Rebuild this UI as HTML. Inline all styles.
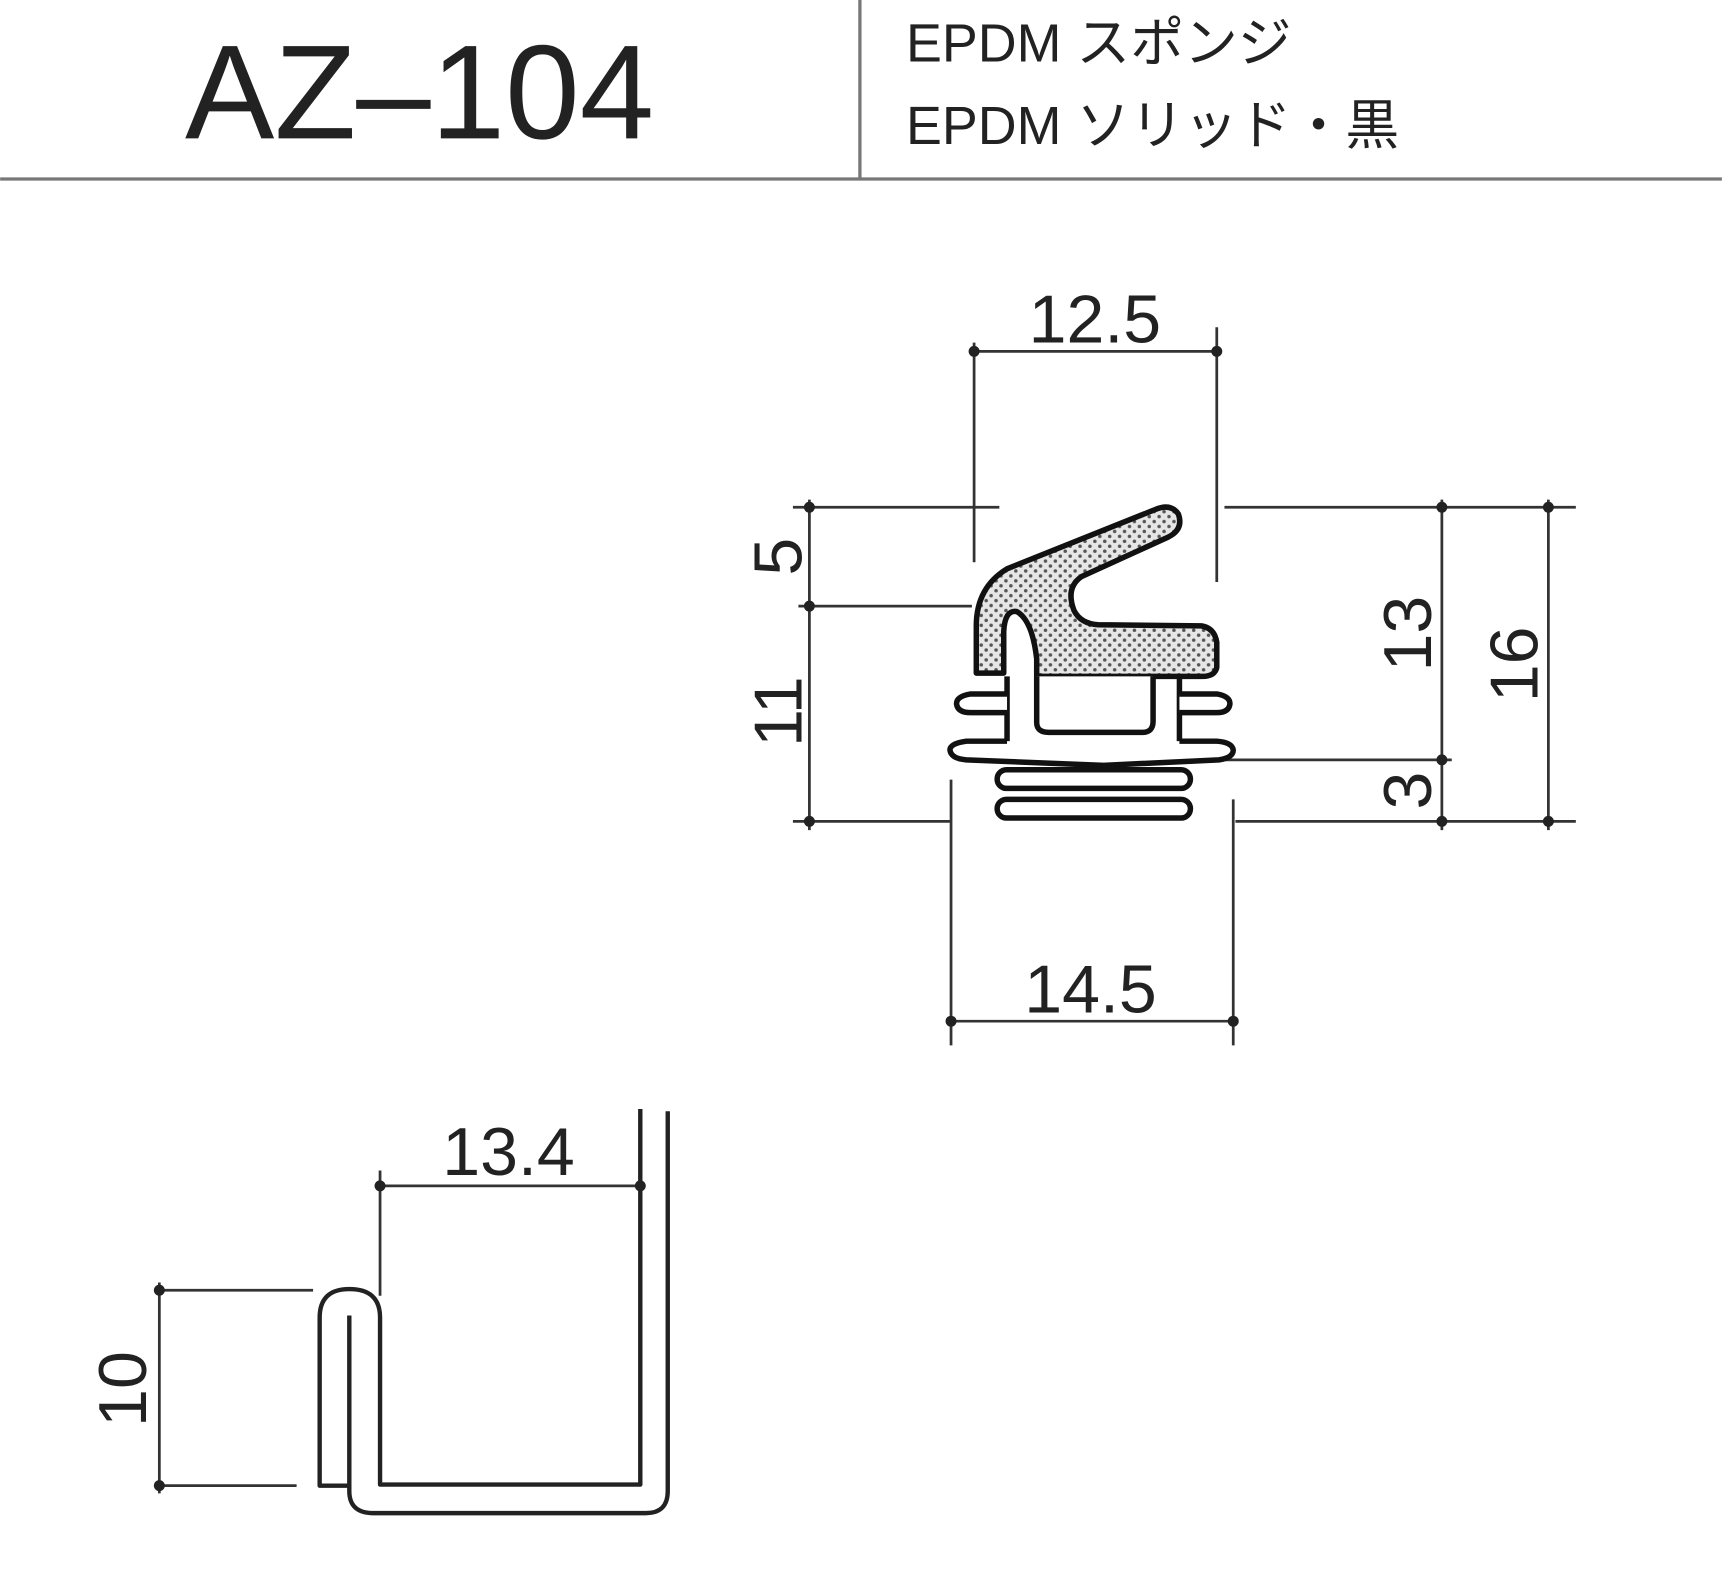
<!DOCTYPE html>
<html><head><meta charset="utf-8"><style>
html,body{margin:0;padding:0;background:#fff;}
svg{display:block;}
text{font-family:"Liberation Sans","Noto Sans CJK JP",sans-serif;fill:#222;}
</style></head><body>
<svg width="1722" height="1579" viewBox="0 0 1568 1438" xmlns="http://www.w3.org/2000/svg">
<defs>
<pattern id="dots" width="9" height="9" patternUnits="userSpaceOnUse">
<rect width="9" height="9" fill="#e6e6e6"/>
<circle cx="2.5" cy="2.5" r="1.6" fill="#555"/>
<circle cx="7" cy="7" r="1.6" fill="#555"/>
</pattern>
</defs>
<rect width="1568" height="1438" fill="#fff"/>
<line x1="0" y1="163" x2="1568" y2="163" stroke="#777" stroke-width="3"/>
<line x1="783" y1="0" x2="783" y2="163" stroke="#777" stroke-width="3"/>
<text x="382" y="126" font-size="122" text-anchor="middle">AZ–104</text>
<text x="825" y="56" font-size="49">EPDM スポンジ</text>
<text x="825" y="131" font-size="49">EPDM ソリッド・黒</text>

<g stroke="#333" stroke-width="2.5" fill="none">
<line x1="887" y1="320" x2="1108" y2="320"/>
<line x1="887" y1="312" x2="887" y2="512"/>
<line x1="1108" y1="298" x2="1108" y2="530"/>
<line x1="722" y1="462" x2="910" y2="462"/>
<line x1="1115" y1="462" x2="1435" y2="462"/>
<line x1="727" y1="552" x2="885" y2="552"/>
<line x1="722" y1="748" x2="865" y2="748"/>
<line x1="1125" y1="748" x2="1435" y2="748"/>
<line x1="1100" y1="692" x2="1322" y2="692"/>
<line x1="737" y1="455" x2="737" y2="756"/>
<line x1="1313" y1="455" x2="1313" y2="756"/>
<line x1="1410" y1="455" x2="1410" y2="756"/>
<line x1="866" y1="710" x2="866" y2="952"/>
<line x1="1123" y1="728" x2="1123" y2="952"/>
<line x1="866" y1="930" x2="1123" y2="930"/>
</g>
<g fill="#222">
<circle cx="887" cy="320" r="5"/><circle cx="1108" cy="320" r="5"/>
<circle cx="737" cy="462" r="5"/><circle cx="737" cy="552" r="5"/><circle cx="737" cy="748" r="5"/>
<circle cx="1313" cy="462" r="5"/><circle cx="1313" cy="692" r="5"/><circle cx="1313" cy="748" r="5"/>
<circle cx="1410" cy="462" r="5"/><circle cx="1410" cy="748" r="5"/>
<circle cx="866" cy="930" r="5"/><circle cx="1123" cy="930" r="5"/>
</g>
<text x="997" y="312" font-size="62" text-anchor="middle">12.5</text>
<text x="993" y="922" font-size="62" text-anchor="middle">14.5</text>
<text transform="translate(730,507) rotate(-90)" font-size="62" text-anchor="middle">5</text>
<text transform="translate(730,648) rotate(-90)" font-size="62" text-anchor="middle">11</text>
<text transform="translate(1303,577) rotate(-90)" font-size="62" text-anchor="middle">13</text>
<text transform="translate(1303,720) rotate(-90)" font-size="62" text-anchor="middle">3</text>
<text transform="translate(1400,605) rotate(-90)" font-size="62" text-anchor="middle">16</text>

<g stroke="#111" stroke-width="5" stroke-linejoin="round">
<path fill="url(#dots)" d="M889,613 L889,570 Q889,535 917,518 L1052,464 Q1066,458 1073,468 Q1078,482 1064,489 L985,525 Q970,535 978,556 Q984,568 1000,569 L1094,570 Q1106,572 1108,585 L1108,608 Q1106,616 1095,616 L944,616 L944,600 Q940,565 926,557 Q915,555 914,575 L914,613 Z"/>
<path fill="#fff" d="M917,616 L917,684 M1074,616 L1074,684"/>
<path fill="#fff" d="M944,616 L944,658 Q944,667 955,667 L1040,667 Q1050,667 1050,657 L1050,616"/>
<path fill="#fff" d="M917,632 L884,632 Q871,634 871,641 Q872,649 884,649 L917,649"/>
<path fill="#fff" d="M1074,632 L1108,632 Q1120,634 1120,641 Q1119,649 1108,649 L1074,649"/>
<path fill="#fff" d="M917,675 L880,675 Q865,677 865,683 Q866,691 880,692 L1005,697 L1110,692 Q1123,690 1123,683 Q1122,676 1108,675 L1074,675"/>
<rect x="908" y="701" width="176" height="17" rx="8.5" fill="#fff"/>
<rect x="908" y="728" width="176" height="17" rx="8.5" fill="#fff"/>
</g>

<g stroke="#333" stroke-width="2.5" fill="none">
<line x1="346" y1="1080" x2="583" y2="1080"/>
<line x1="346" y1="1066" x2="346" y2="1180"/>
<line x1="145" y1="1175" x2="285" y2="1175"/>
<line x1="145" y1="1353" x2="270" y2="1353"/>
<line x1="145" y1="1168" x2="145" y2="1360"/>
</g>
<g fill="#222">
<circle cx="346" cy="1080" r="5"/><circle cx="583" cy="1080" r="5"/>
<circle cx="145" cy="1175" r="5"/><circle cx="145" cy="1353" r="5"/>
</g>
<text x="463" y="1070" font-size="62" text-anchor="middle">13.4</text>
<text transform="translate(133,1265) rotate(-90)" font-size="62" text-anchor="middle">10</text>
<g stroke="#222" stroke-width="4" fill="none" stroke-linejoin="round">
<path d="M583,1010 L583,1352 L346,1352 L346,1200 Q346,1174 318,1174 Q291,1174 291,1200 L291,1353 L318,1353"/>
<path d="M318,1198 L318,1358 Q318,1378 340,1378 L588,1378 Q608,1378 608,1358 L608,1012"/>
</g>
</svg>
</body></html>
